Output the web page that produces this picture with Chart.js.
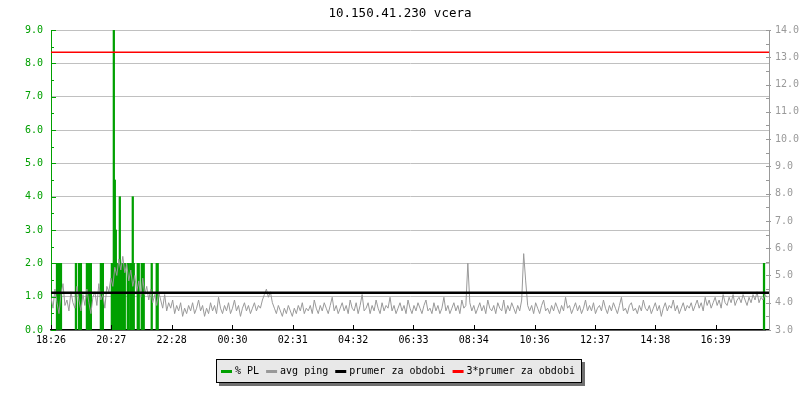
<!DOCTYPE html>
<html lang="cs">
<head>
<meta charset="UTF-8">
<title>10.150.41.230 vcera</title>
<script src="https://cdn.jsdelivr.net/npm/chart.js"></script>
<style>
  body { margin: 0; background: #fff; }
</style>
</head>
<body>
<canvas id="pingChart" width="800" height="400"></canvas>
<script>
// znacky na ose x
const timeLabels = ['18:26', '20:27', '22:28', '00:30', '02:31', '04:32',
                    '06:33', '08:34', '10:36', '12:37', '14:38', '16:39'];
const startTime = '18:26';
const spanMinutes = 1440;

// ztratovost paketu - minuta od zacatku a % PL
const plMinutes = [12, 14, 18, 20, 50, 56, 58, 60, 72, 74, 78, 80, 100, 104,
                   122, 124, 126, 128, 130, 132, 134, 136, 138, 140, 142, 144, 146, 148,
                   154, 156, 160, 162, 164, 166, 174, 176, 182, 184, 186, 202, 212, 214, 1430];
const plValues = [2, 2, 2, 2, 2, 2, 2, 2, 2, 2, 2, 2, 2, 2,
                  2, 2, 9, 4.5, 3, 2, 2, 2, 4, 2, 2, 2, 2, 2,
                  2, 2, 2, 2, 4, 2, 2, 2, 2, 2, 2, 2, 2, 2, 2];

// avg ping (ms), jeden vzorek za 4 minuty
const pingStep = 4;
const pingValues = [
  4.2, 3.8, 4.5, 4.0, 3.6, 4.3, 4.7, 3.9, 4.1, 3.7,
  4.4, 4.0, 3.8, 4.6, 4.1, 3.7, 4.3, 3.9, 4.5, 4.0,
  3.6, 4.2, 4.4, 3.9, 4.7, 4.1, 4.3, 3.8, 4.6, 4.4,
  4.9, 4.6, 5.3, 5.0, 5.6, 5.2, 5.7, 5.1, 5.4, 4.8,
  5.2, 4.6, 5.0, 4.4, 4.8, 4.2, 4.9, 4.3, 4.6, 4.1,
  4.5, 4.0, 4.3, 3.9, 4.4, 4.1, 3.8, 4.3, 3.7, 4.0,
  3.8, 4.1, 3.6, 3.9, 3.7, 4.0, 3.5, 3.8, 3.6, 3.9,
  3.7, 4.0, 3.6, 3.8, 4.1, 3.7, 3.9, 3.5, 3.8, 3.6,
  4.0, 3.7, 3.9, 3.6, 4.2, 3.8, 3.6, 3.9, 3.7, 4.0,
  3.6, 3.8, 4.1, 3.7, 3.9, 3.5, 3.8, 4.0, 3.7, 3.9,
  3.6, 3.8, 4.0, 3.7, 3.9, 3.8, 4.1, 4.3, 4.5, 4.2,
  4.4, 4.0, 3.8, 3.6, 3.9, 3.7, 3.5, 3.8, 3.6, 3.9,
  3.7, 3.5, 3.8, 3.6, 3.9, 3.7, 4.0, 3.6, 3.8, 3.7,
  3.9, 3.6, 4.1, 3.8, 3.6, 3.9, 3.7, 4.0, 3.8, 3.6,
  3.9, 4.2, 3.7, 3.9, 3.6, 3.8, 4.0, 3.7, 3.9, 3.6,
  4.1, 3.8, 3.7, 4.0, 3.6, 3.9, 4.3, 3.7, 3.8, 4.0,
  3.6, 3.9, 3.7, 4.1, 3.8, 3.6, 4.0, 3.7, 3.9, 3.8,
  4.2, 3.7, 3.9, 3.6, 3.8, 4.0, 3.7, 3.9, 3.6, 4.1,
  3.8, 3.6, 3.9, 3.7, 4.0, 3.8, 3.6, 3.9, 4.1, 3.7,
  3.8, 3.6, 4.0, 3.7, 3.9, 3.6, 3.8, 4.2, 3.7, 3.9,
  3.6, 3.8, 4.0, 3.7, 3.9, 3.6, 4.1, 3.8, 3.9, 5.45,
  4.0, 3.7, 3.9, 3.6, 3.8, 4.0, 3.7, 3.9, 3.6, 4.1,
  3.8, 3.7, 3.9, 3.6, 4.0, 3.8, 3.7, 4.1, 3.6, 3.9,
  3.7, 4.0, 3.8, 3.6, 3.9, 3.7, 4.1, 5.8, 4.8, 3.9,
  3.7, 3.9, 3.6, 4.0, 3.8, 3.6, 3.9, 4.1, 3.7, 3.8,
  3.6, 3.9, 3.7, 4.0, 3.8, 3.6, 3.9, 3.7, 4.2, 3.8,
  3.9, 3.6, 3.8, 4.0, 3.7, 3.9, 3.6, 3.8, 4.1, 3.7,
  3.9, 3.7, 4.0, 3.6, 3.8, 3.9, 3.7, 4.1, 3.8, 3.6,
  3.9, 3.7, 4.0, 3.8, 3.6, 3.9, 4.2, 3.7, 3.8, 3.6,
  3.9, 4.0, 3.7, 3.8, 3.6, 3.9, 3.7, 4.1, 3.8, 3.7,
  3.9, 3.6, 3.8, 4.0, 3.7, 3.9, 3.5, 3.8, 4.0, 3.7,
  3.9, 3.8, 4.1, 3.7, 3.9, 3.6, 3.8, 4.0, 3.7, 3.9,
  3.8, 4.0, 3.7, 3.9, 4.1, 3.8, 4.0, 3.7, 4.2, 3.9,
  4.1, 3.8, 4.0, 4.2, 3.9, 4.1, 3.8, 4.3, 4.0, 3.9,
  4.2, 4.0, 4.3, 3.9, 4.1, 4.2, 4.0, 4.3, 4.1, 3.9,
  4.2, 4.0, 4.3, 4.1, 4.4, 4.0, 4.2, 4.1, 4.3, 4.2
];

const pingMean = 4.37;   // prumer za obdobi
const pingMean3 = 13.18; // 3*prumer za obdobi

const green = '#00a000';
const gray = '#999999';

function toMin(label) {
  const [h, m] = label.split(':').map(Number);
  const [h0, m0] = startTime.split(':').map(Number);
  let d = h * 60 + m - (h0 * 60 + m0);
  if (d < 0) d += 1440;
  return d;
}

// male carky dovnitr grafu
const innerTicks = {
  id: 'innerTicks',
  afterDraw(chart) {
    const { ctx, chartArea: a, scales } = chart;
    ctx.save();
    ctx.lineWidth = 1;
    ctx.strokeStyle = green;
    for (let v = 0; v <= 9; v += 0.5) {
      const y = Math.round(scales.y.getPixelForValue(v)) + 0.5;
      ctx.beginPath();
      ctx.moveTo(a.left, y);
      ctx.lineTo(a.left + (v % 1 ? 3 : 5), y);
      ctx.stroke();
    }
    ctx.strokeStyle = gray;
    for (let v = 3; v <= 14; v += 0.5) {
      const y = Math.round(scales.y1.getPixelForValue(v)) + 0.5;
      ctx.beginPath();
      ctx.moveTo(a.right - 3, y);
      ctx.lineTo(a.right + (v % 1 ? 0 : 2), y);
      ctx.stroke();
    }
    ctx.strokeStyle = '#000';
    timeLabels.forEach(l => {
      const x = Math.round(scales.x.getPixelForValue(toMin(l))) + 0.5;
      ctx.beginPath();
      ctx.moveTo(x, a.bottom);
      ctx.lineTo(x, a.bottom - 5);
      ctx.stroke();
    });
    ctx.restore();
  }
};

// legenda v sedem ramecku se stinem
const boxLegend = {
  id: 'boxLegend',
  afterDraw(chart) {
    const ctx = chart.ctx;
    ctx.save();
    ctx.font = '10px "DejaVu Sans Mono"';
    const items = chart.data.datasets.map(ds => ({
      text: ds.label,
      color: ds.legendColor,
      w: ctx.measureText(ds.label).width
    }));
    const mark = 11, gapMark = 3, gapItem = 7, padL = 5, padR = 7, h = 24;
    let w = padL + padR;
    items.forEach((it, i) => { w += mark + gapMark + it.w + (i ? gapItem : 0); });
    w = Math.round(w);
    const left = Math.round(399 - w / 2), top = 359;
    ctx.fillStyle = '#707070';
    ctx.fillRect(left + 3, top + 3, w, h);
    ctx.fillStyle = '#e8e8e8';
    ctx.fillRect(left, top, w, h);
    ctx.strokeStyle = '#000';
    ctx.lineWidth = 1;
    ctx.strokeRect(left + 0.5, top + 0.5, w - 1, h - 1);
    let x = left + padL;
    const cy = top + h / 2;
    ctx.textBaseline = 'middle';
    items.forEach(it => {
      ctx.fillStyle = it.color;
      ctx.fillRect(x, cy - 1, mark, 3);
      x += mark + gapMark;
      ctx.fillStyle = '#000';
      ctx.fillText(it.text, x, cy);
      x += it.w + gapItem;
    });
    ctx.restore();
  }
};

Chart.defaults.font.family = '"DejaVu Sans Mono", monospace';
Chart.defaults.font.size = 10;

const ctx = document.getElementById('pingChart').getContext('2d');
new Chart(ctx, {
  type: 'bar',
  data: {
    datasets: [
      {
        type: 'bar',
        label: '% PL',
        data: plMinutes.map((m, i) => ({ x: m, y: plValues[i] })),
        backgroundColor: green,
        legendColor: green,
        barThickness: 1.6,
        yAxisID: 'y',
        order: 4
      },
      {
        type: 'line',
        label: 'avg ping',
        data: pingValues.map((v, i) => ({ x: i * pingStep, y: v })),
        borderColor: gray,
        legendColor: gray,
        borderWidth: 1,
        pointRadius: 0,
        tension: 0,
        yAxisID: 'y1',
        order: 3
      },
      {
        type: 'line',
        label: 'prumer za obdobi',
        data: [{ x: 0, y: pingMean }, { x: spanMinutes, y: pingMean }],
        borderColor: '#000',
        legendColor: '#000',
        borderWidth: 2.5,
        pointRadius: 0,
        yAxisID: 'y1',
        order: 2
      },
      {
        type: 'line',
        label: '3*prumer za obdobi',
        data: [{ x: 0, y: pingMean3 }, { x: spanMinutes, y: pingMean3 }],
        borderColor: '#ff0000',
        legendColor: '#ff0000',
        borderWidth: 1.5,
        pointRadius: 0,
        yAxisID: 'y1',
        order: 1
      }
    ]
  },
  options: {
    responsive: false,
    animation: false,
    layout: { padding: 0 },
    plugins: {
      legend: { display: false },
      tooltip: { enabled: false },
      title: {
        display: true,
        text: '10.150.41.230 vcera',
        color: '#000',
        font: { size: 12.5, weight: 'normal' },
        padding: { top: 6, bottom: 9 }
      }
    },
    scales: {
      x: {
        type: 'linear',
        offset: false,
        min: 0,
        max: spanMinutes,
        afterBuildTicks: scale => {
          scale.ticks = timeLabels.map(l => ({ value: toMin(l) }));
        },
        afterFit: scale => { scale.height = 70; },
        ticks: {
          autoSkip: false,
          maxRotation: 0,
          color: '#000',
          padding: 4,
          callback: (value, index) => timeLabels[index]
        },
        grid: { offset: false, drawOnChartArea: false, drawTicks: false },
        border: { color: '#000', width: 1.5 }
      },
      y: {
        position: 'left',
        min: 0,
        max: 9,
        afterFit: scale => { scale.width = 51; },
        ticks: {
          stepSize: 1,
          color: green,
          padding: 8,
          callback: v => v.toFixed(1)
        },
        grid: { color: '#c0c0c0', drawTicks: false },
        border: { color: green, width: 1 }
      },
      y1: {
        position: 'right',
        min: 3,
        max: 14,
        afterFit: scale => { scale.width = 31; },
        ticks: {
          stepSize: 1,
          color: gray,
          padding: 6,
          callback: v => v.toFixed(1)
        },
        grid: { drawOnChartArea: false, drawTicks: false },
        border: { color: gray, width: 1 }
      }
    }
  },
  plugins: [innerTicks, boxLegend]
});
</script>
</body>
</html>
